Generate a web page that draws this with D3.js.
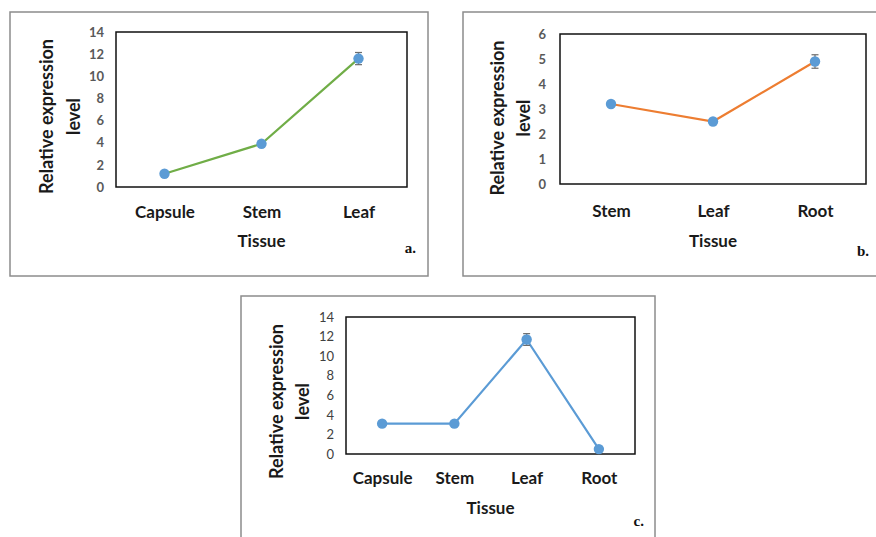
<!DOCTYPE html>
<html>
<head>
<meta charset="utf-8">
<script src="https://cdn.jsdelivr.net/npm/d3@7"></script>
<style>
  body { margin: 0; background: #fff; }
  svg { display: block; }
  .tick text { font-family: Lato, "Open Sans", sans-serif; }
</style>
</head>
<body>
<div id="chart"></div>
<script>
// panel a
var tissuesA = ["Capsule", "Stem", "Leaf"];
var valuesA = [1.2, 3.9, 11.6];
var errorsA = [0.15, 0.2, 0.55];
var ticksA = [0, 2, 4, 6, 8, 10, 12, 14];

// panel b
var tissuesB = ["Stem", "Leaf", "Root"];
var valuesB = [3.2, 2.5, 4.9];
var errorsB = [0.1, 0.08, 0.27];
var ticksB = [0, 1, 2, 3, 4, 5, 6];

// panel c
var tissuesC = ["Capsule", "Stem", "Leaf", "Root"];
var valuesC = [3.1, 3.1, 11.7, 0.5];
var errorsC = [0.1, 0.1, 0.6, 0.1];
var ticksC = [0, 2, 4, 6, 8, 10, 12, 14];

var svg = d3.select("#chart").append("svg")
    .attr("width", 876)
    .attr("height", 537);

function drawPanel(opt) {
    var g = svg.append("g");

    // outer frame
    g.append("rect")
        .attr("x", opt.frame[0])
        .attr("y", opt.frame[1])
        .attr("width", opt.frame[2])
        .attr("height", opt.frame[3])
        .attr("fill", "none")
        .attr("stroke", "#8c8c8c")
        .attr("stroke-width", 1.5);

    var x = d3.scalePoint()
        .domain(opt.cats)
        .range([opt.left, opt.right])
        .padding(0.5);

    var y = d3.scaleLinear()
        .domain([0, d3.max(opt.ticks)])
        .range([opt.bottom, opt.top]);

    var yAxis = g.append("g")
        .attr("transform", "translate(" + opt.left + ",0)")
        .call(d3.axisLeft(y).tickValues(opt.ticks).tickFormat(d3.format("d")).tickSize(0).tickPadding(opt.tickPad));
    yAxis.select(".domain").remove();
    yAxis.selectAll("text")
        .style("font-size", "13px")
        .style("font-weight", opt.boldTicks ? "bold" : "normal")
        .attr("fill", opt.boldTicks ? "#595959" : "#404040");

    var xAxis = g.append("g")
        .attr("transform", "translate(0," + opt.bottom + ")")
        .call(d3.axisBottom(x).tickSize(0).tickPadding(opt.xPad));
    xAxis.select(".domain").remove();
    xAxis.selectAll("text")
        .style("font-size", "17px")
        .style("font-weight", "bold")
        .attr("fill", "#1a1a1a");

    // plot area border
    g.append("rect")
        .attr("x", opt.left)
        .attr("y", opt.top)
        .attr("width", opt.right - opt.left)
        .attr("height", opt.bottom - opt.top)
        .attr("fill", "none")
        .attr("stroke", "#111")
        .attr("stroke-width", 1.5);

    var pts = opt.cats.map(function (c, i) {
        return { cat: c, v: opt.values[i], e: opt.errors[i] };
    });

    var line = d3.line()
        .x(function (d) { return x(d.cat); })
        .y(function (d) { return y(d.v); });

    g.append("path")
        .datum(pts)
        .attr("d", line)
        .attr("fill", "none")
        .attr("stroke", opt.color)
        .attr("stroke-width", 2.2);

    // error bars
    var eb = g.selectAll(".err").data(pts).enter().append("g")
        .attr("stroke", "#6d6d6d")
        .attr("stroke-width", 1.2);
    eb.append("line")
        .attr("x1", function (d) { return x(d.cat); })
        .attr("x2", function (d) { return x(d.cat); })
        .attr("y1", function (d) { return y(d.v - d.e); })
        .attr("y2", function (d) { return y(d.v + d.e); });
    [1, -1].forEach(function (s) {
        eb.append("line")
            .attr("x1", function (d) { return x(d.cat) - 3.5; })
            .attr("x2", function (d) { return x(d.cat) + 3.5; })
            .attr("y1", function (d) { return y(d.v + s * d.e); })
            .attr("y2", function (d) { return y(d.v + s * d.e); });
    });

    g.selectAll(".dot").data(pts).enter().append("circle")
        .attr("cx", function (d) { return x(d.cat); })
        .attr("cy", function (d) { return y(d.v); })
        .attr("r", 5.2)
        .attr("fill", "#5b9bd5");

    // axis titles
    var cy = (opt.top + opt.bottom) / 2 + opt.yTitleShift;
    var yt = g.append("text")
        .attr("transform", "translate(" + opt.yTitleX + "," + cy + ") rotate(-90)")
        .attr("text-anchor", "middle")
        .style("font-family", "Lato, 'Open Sans', sans-serif")
        .style("font-size", "18px")
        .style("font-weight", "bold")
        .attr("fill", "#1a1a1a");
    yt.append("tspan").attr("x", 0).attr("dy", "0").text("Relative expression");
    yt.append("tspan").attr("x", 0).attr("dy", opt.yTitleGap).text("level");

    g.append("text")
        .attr("x", (opt.left + opt.right) / 2)
        .attr("y", opt.xTitleY)
        .attr("text-anchor", "middle")
        .style("font-family", "Lato, 'Open Sans', sans-serif")
        .style("font-size", "17px")
        .style("font-weight", "bold")
        .attr("fill", "#1a1a1a")
        .text("Tissue");

    g.append("text")
        .attr("x", opt.tag[0])
        .attr("y", opt.tag[1])
        .attr("text-anchor", "end")
        .style("font-family", "'Liberation Serif', serif")
        .style("font-size", "15px")
        .style("font-weight", "bold")
        .attr("fill", "#111")
        .text(opt.label);
}

drawPanel({
    frame: [10, 12, 418, 264],
    left: 116, right: 407, top: 32, bottom: 187,
    cats: tissuesA, values: valuesA, errors: errorsA, ticks: ticksA,
    color: "#70ad47", boldTicks: true, tickPad: 12, xPad: 19,
    yTitleX: 53, yTitleGap: 27, yTitleShift: 7, xTitleY: 247,
    tag: [416, 253], label: "a."
});

drawPanel({
    frame: [463, 12, 420, 264],
    left: 560, right: 866, top: 34, bottom: 184,
    cats: tissuesB, values: valuesB, errors: errorsB, ticks: ticksB,
    color: "#ed7d31", boldTicks: true, tickPad: 14, xPad: 21,
    yTitleX: 504, yTitleGap: 26, yTitleShift: 9, xTitleY: 247,
    tag: [869, 256], label: "b."
});

drawPanel({
    frame: [241, 296, 414, 260],
    left: 346, right: 635, top: 317, bottom: 454,
    cats: tissuesC, values: valuesC, errors: errorsC, ticks: ticksC,
    color: "#5b9bd5", boldTicks: false, tickPad: 12, xPad: 18,
    yTitleX: 283, yTitleGap: 26, yTitleShift: 16, xTitleY: 514,
    tag: [644, 526], label: "c."
});
</script>
</body>
</html>
